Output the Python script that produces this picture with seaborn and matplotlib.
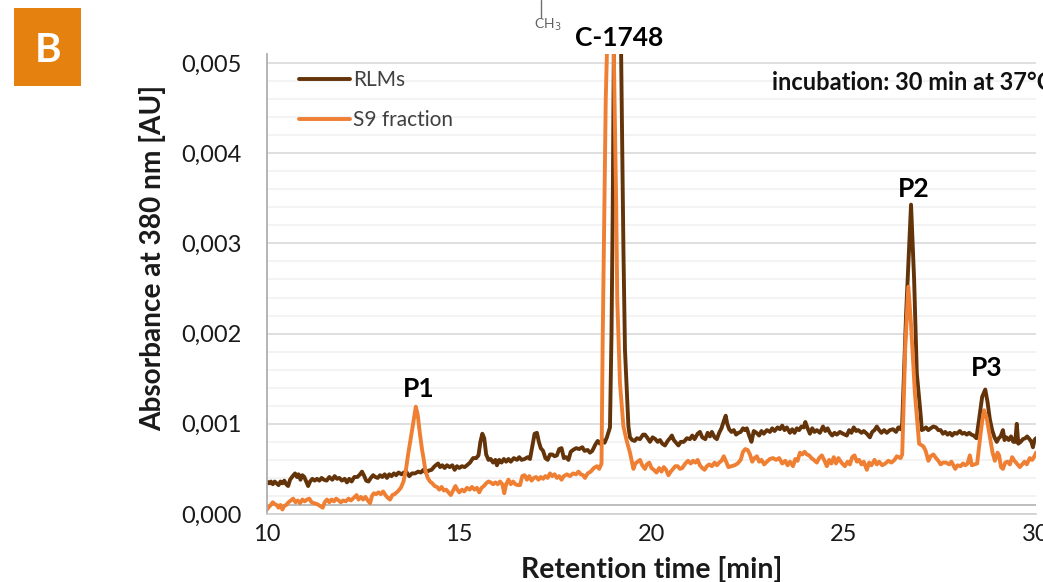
import pandas as pd
import matplotlib.pyplot as plt
import seaborn as sns
from matplotlib.patches import Rectangle
from matplotlib.ticker import FuncFormatter, MultipleLocator

rlm_points = [
    (10.0, .36), (10.05, .34), (10.1, .36), (10.15, .33), (10.2, .36), (10.25, .34), (10.3, .32), (10.35, .36),
    (10.4, .34), (10.45, .37), (10.5, .33), (10.55, .31), (10.6, .38), (10.65, .41), (10.73, .45), (10.78, .41),
    (10.82, .44), (10.87, .38), (10.92, .43), (10.97, .41), (11.02, .36), (11.07, .31), (11.12, .36), (11.18, .39),
    (11.24, .37), (11.3, .39), (11.36, .37), (11.42, .40), (11.48, .38), (11.55, .37), (11.62, .41), (11.7, .38),
    (11.76, .42), (11.82, .39), (11.88, .40), (11.95, .37), (12.02, .39), (12.08, .35), (12.14, .39), (12.2, .36),
    (12.27, .41), (12.35, .41), (12.42, .44), (12.47, .47), (12.53, .42), (12.58, .37), (12.64, .36), (12.7, .40),
    (12.76, .43), (12.82, .41), (12.88, .40), (12.94, .43), (13.0, .41), (13.06, .44), (13.12, .40), (13.18, .44),
    (13.24, .42), (13.3, .45), (13.36, .43), (13.42, .46), (13.5, .44), (13.56, .46), (13.62, .47), (13.7, .42),
    (13.77, .45), (13.85, .45), (13.93, .47), (14.0, .46), (14.07, .49), (14.13, .46), (14.2, .48), (14.28, .49),
    (14.36, .53), (14.45, .56), (14.5, .52), (14.56, .54), (14.62, .51), (14.68, .54), (14.75, .52), (14.82, .54),
    (14.88, .49), (14.94, .53), (15.0, .51), (15.07, .53), (15.14, .52), (15.2, .54), (15.28, .57), (15.36, .62),
    (15.44, .62), (15.5, .65), (15.55, .80), (15.6, .89), (15.65, .84), (15.7, .66), (15.76, .60), (15.82, .61),
    (15.88, .57), (15.94, .60), (15.98, .54), (16.04, .60), (16.1, .57), (16.16, .61), (16.22, .58), (16.28, .61),
    (16.34, .58), (16.42, .62), (16.5, .60), (16.56, .63), (16.62, .60), (16.7, .61), (16.78, .63), (16.84, .61),
    (16.9, .75), (16.96, .89), (17.02, .90), (17.07, .80), (17.12, .73), (17.18, .70), (17.24, .62), (17.3, .60),
    (17.36, .66), (17.42, .66), (17.48, .64), (17.54, .65), (17.6, .72), (17.66, .73), (17.72, .62), (17.78, .63),
    (17.84, .60), (17.9, .69), (17.96, .71), (18.04, .73), (18.12, .72), (18.2, .74), (18.26, .70), (18.34, .71),
    (18.4, .68), (18.46, .70), (18.54, .77), (18.6, .81), (18.66, .78), (18.72, .82), (18.78, .79), (18.84, .85),
    (18.92, .96), (18.96, 2.0), (18.99, 3.3), (19.02, 5.1), (19.12, 9.0), (19.21, 5.1), (19.24, 4.0), (19.27, 2.93),
    (19.31, 1.82), (19.4, .97), (19.44, .85), (19.5, .82), (19.56, .81), (19.62, .84), (19.7, .83), (19.78, .88),
    (19.83, .88), (19.9, .84), (19.96, .80), (20.03, .85), (20.1, .83), (20.16, .80), (20.22, .82), (20.28, .78),
    (20.35, .76), (20.42, .81), (20.48, .84), (20.53, .87), (20.58, .82), (20.64, .79), (20.7, .76), (20.76, .80),
    (20.84, .80), (20.92, .84), (21.0, .83), (21.06, .87), (21.12, .83), (21.2, .89), (21.26, .91), (21.32, .85),
    (21.4, .83), (21.46, .90), (21.52, .86), (21.57, .91), (21.64, .85), (21.7, .83), (21.76, .90), (21.82, .95),
    (21.88, 1.03), (21.93, 1.09), (21.97, 1.0), (22.02, .94), (22.08, .91), (22.14, .93), (22.2, .88), (22.26, .90),
    (22.32, .91), (22.38, .95), (22.43, .93), (22.48, .95), (22.54, .87), (22.6, .80), (22.66, .92), (22.73, .90),
    (22.8, .87), (22.86, .92), (22.92, .89), (23.0, .93), (23.08, .91), (23.14, .95), (23.2, .92), (23.28, .96),
    (23.34, .94), (23.4, .98), (23.46, .93), (23.52, .96), (23.6, .90), (23.66, .94), (23.72, .90), (23.78, .95),
    (23.84, .93), (23.9, .97), (23.96, .96), (24.0, 1.02), (24.06, .95), (24.12, .89), (24.18, .95), (24.24, .91),
    (24.3, .93), (24.38, .90), (24.46, .97), (24.52, .92), (24.58, .95), (24.64, .90), (24.7, .87), (24.76, .90),
    (24.82, .88), (24.9, .91), (24.98, .89), (25.08, .87), (25.14, .93), (25.2, .90), (25.26, .96), (25.32, .92),
    (25.38, .93), (25.46, .90), (25.52, .92), (25.6, .89), (25.68, .85), (25.74, .91), (25.8, .93), (25.86, .97),
    (25.92, .93), (25.98, .90), (26.05, .93), (26.12, .90), (26.2, .93), (26.28, .94), (26.36, .91), (26.42, .96),
    (26.48, .94), (26.52, 1.0), (26.62, 2.2), (26.75, 3.43), (26.83, 2.6), (26.9, 1.56), (27.0, 1.1), (27.03, .93),
    (27.08, .94), (27.14, .96), (27.2, .93), (27.26, .95), (27.33, .97), (27.4, .96), (27.46, .93), (27.52, .93),
    (27.58, .89), (27.64, .91), (27.7, .88), (27.76, .90), (27.82, .87), (27.88, .90), (27.94, .89), (28.02, .92),
    (28.08, .89), (28.14, .90), (28.2, .88), (28.26, .90), (28.32, .88), (28.38, .87), (28.45, .84), (28.52, 1.05),
    (28.6, 1.30), (28.68, 1.38), (28.74, 1.24), (28.8, 1.05), (28.86, .93), (28.92, .85), (28.98, .80), (29.03, .84),
    (29.08, .86), (29.14, .93), (29.18, .82), (29.23, .85), (29.29, .82), (29.35, .86), (29.41, .80), (29.46, .80),
    (29.5, 1.0), (29.54, .78), (29.6, .80), (29.66, .83), (29.72, .84), (29.77, .86), (29.83, .83), (29.88, .80),
    (29.92, .74), (29.96, .82), (30.0, .84),
]
s9_points = [
    (10.0, .05), (10.05, .08), (10.1, .10), (10.15, .13), (10.2, .11), (10.25, .10), (10.3, .07), (10.35, .10),
    (10.4, .05), (10.45, .09), (10.5, .10), (10.56, .13), (10.62, .15), (10.68, .17), (10.74, .13), (10.8, .15),
    (10.86, .12), (10.92, .16), (10.98, .14), (11.04, .16), (11.1, .17), (11.16, .13), (11.22, .12), (11.3, .11),
    (11.38, .09), (11.45, .07), (11.5, .13), (11.56, .16), (11.62, .13), (11.68, .16), (11.74, .14), (11.8, .17),
    (11.86, .15), (11.92, .13), (11.98, .15), (12.05, .14), (12.12, .17), (12.18, .15), (12.26, .18), (12.33, .21),
    (12.38, .16), (12.44, .19), (12.5, .16), (12.56, .19), (12.62, .15), (12.68, .12), (12.73, .20), (12.78, .23),
    (12.84, .22), (12.9, .24), (12.96, .22), (13.02, .25), (13.08, .21), (13.14, .18), (13.2, .16), (13.26, .21),
    (13.32, .22), (13.4, .25), (13.48, .29), (13.55, .36), (13.61, .48), (13.67, .66), (13.74, .84), (13.8, 1.0),
    (13.87, 1.19), (13.92, 1.1), (13.98, .88), (14.03, .72), (14.07, .62), (14.12, .48), (14.18, .40), (14.24, .36),
    (14.3, .34), (14.36, .31), (14.42, .30), (14.48, .27), (14.54, .30), (14.6, .26), (14.66, .27), (14.72, .24),
    (14.78, .21), (14.84, .26), (14.9, .31), (14.95, .27), (15.0, .24), (15.07, .27), (15.13, .25), (15.2, .29),
    (15.27, .27), (15.33, .30), (15.4, .27), (15.46, .29), (15.52, .24), (15.58, .29), (15.64, .31), (15.7, .34),
    (15.76, .36), (15.82, .35), (15.88, .33), (15.94, .35), (16.0, .33), (16.06, .36), (16.12, .33), (16.17, .23),
    (16.22, .33), (16.28, .38), (16.34, .33), (16.4, .36), (16.46, .33), (16.52, .32), (16.58, .32), (16.64, .42),
    (16.7, .43), (16.76, .38), (16.82, .42), (16.88, .37), (16.94, .40), (17.0, .41), (17.06, .38), (17.12, .41),
    (17.18, .39), (17.24, .42), (17.3, .40), (17.36, .45), (17.42, .42), (17.48, .44), (17.54, .40), (17.6, .42),
    (17.66, .38), (17.72, .42), (17.8, .44), (17.88, .42), (17.96, .45), (18.04, .44), (18.1, .47), (18.16, .44),
    (18.22, .43), (18.27, .40), (18.34, .45), (18.42, .47), (18.5, .51), (18.58, .53), (18.64, .50), (18.7, .56),
    (18.73, 1.9), (18.76, 2.93), (18.81, 4.6), (18.84, 5.1), (18.93, 9.0), (19.02, 5.1), (19.08, 3.48), (19.11, 2.37),
    (19.18, 1.45), (19.27, .97), (19.35, .82), (19.44, .68), (19.48, .60), (19.53, .50), (19.58, .56), (19.64, .58),
    (19.7, .60), (19.76, .54), (19.83, .50), (19.88, .55), (19.94, .57), (20.0, .51), (20.06, .49), (20.13, .46),
    (20.2, .51), (20.26, .47), (20.32, .52), (20.38, .49), (20.44, .43), (20.5, .47), (20.56, .50), (20.62, .53),
    (20.68, .53), (20.74, .50), (20.8, .51), (20.88, .56), (20.95, .59), (21.02, .56), (21.08, .59), (21.14, .57),
    (21.2, .60), (21.26, .54), (21.32, .51), (21.38, .49), (21.44, .53), (21.5, .55), (21.57, .53), (21.64, .57),
    (21.7, .54), (21.76, .57), (21.82, .59), (21.88, .64), (21.94, .58), (22.0, .52), (22.08, .53), (22.16, .54),
    (22.24, .56), (22.32, .60), (22.38, .69), (22.44, .72), (22.5, .71), (22.56, .66), (22.62, .58), (22.68, .62),
    (22.74, .64), (22.8, .58), (22.86, .60), (22.93, .55), (23.0, .58), (23.08, .61), (23.16, .62), (23.24, .60),
    (23.32, .62), (23.4, .56), (23.48, .59), (23.54, .54), (23.6, .58), (23.68, .53), (23.74, .61), (23.8, .59),
    (23.86, .68), (23.92, .66), (23.98, .69), (24.04, .66), (24.1, .65), (24.16, .62), (24.22, .60), (24.3, .57),
    (24.36, .62), (24.43, .65), (24.5, .59), (24.56, .53), (24.62, .60), (24.68, .56), (24.74, .63), (24.8, .56),
    (24.86, .62), (24.94, .57), (25.03, .53), (25.1, .58), (25.16, .55), (25.22, .63), (25.28, .65), (25.34, .58),
    (25.4, .60), (25.46, .55), (25.52, .58), (25.6, .49), (25.66, .57), (25.72, .54), (25.8, .60), (25.86, .55),
    (25.92, .58), (26.0, .54), (26.08, .56), (26.16, .59), (26.24, .57), (26.32, .60), (26.38, .64), (26.48, .62),
    (26.52, .66), (26.6, 1.85), (26.68, 2.52), (26.75, 2.1), (26.85, 1.34), (26.96, .78), (27.07, .75), (27.13, .70),
    (27.2, .59), (27.26, .64), (27.33, .66), (27.4, .62), (27.46, .59), (27.52, .55), (27.58, .57), (27.66, .57),
    (27.74, .55), (27.8, .58), (27.85, .54), (27.9, .50), (27.96, .54), (28.04, .53), (28.1, .56), (28.16, .54),
    (28.22, .56), (28.28, .65), (28.33, .54), (28.4, .55), (28.47, .56), (28.55, .86), (28.6, 1.03), (28.65, 1.15),
    (28.72, 1.06), (28.8, .86), (28.87, .68), (28.93, .59), (29.0, .68), (29.04, .65), (29.09, .52), (29.14, .50),
    (29.2, .57), (29.26, .58), (29.32, .55), (29.38, .63), (29.44, .59), (29.5, .56), (29.58, .52), (29.64, .55),
    (29.7, .58), (29.76, .55), (29.84, .62), (29.9, .60), (29.96, .64), (30.0, .68),
]

series_names = ['RLMs', 'S9 fraction']
series_colors = ['#63330A', '#EF7F33']

sns.set_theme(style="white")
plt.rcParams['font.family'] = ['Lato', 'DejaVu Sans']

df = pd.concat([
    pd.DataFrame(rlm_points, columns=['time', 'abs']).assign(sample=series_names[0]),
    pd.DataFrame(s9_points, columns=['time', 'abs']).assign(sample=series_names[1]),
])
df['abs'] = df['abs'] / 1000

W, H = 1043, 582
fig = plt.figure(figsize=(W / 100, H / 100), dpi=100)
ax = fig.add_axes([267 / W, 1 - 514 / H, (1036 - 267) / W, (514 - 54) / H])

sns.lineplot(data=df, x='time', y='abs', hue='sample', palette=series_colors, sort=False,
             estimator=None, linewidth=2.8, legend=False, ax=ax)

ax.set_xlim(10, 30)
ax.set_ylim(0, 0.0051)
ax.xaxis.set_major_locator(MultipleLocator(5))
ax.yaxis.set_major_locator(MultipleLocator(0.001))
ax.yaxis.set_minor_locator(MultipleLocator(0.0002))
ax.yaxis.set_major_formatter(FuncFormatter(lambda v, p: f'{v:.3f}'.replace('.', ',')))
ax.grid(axis='y', which='major', color='#D6D6D6', linewidth=1.1, zorder=0)
ax.grid(axis='y', which='minor', color='#F1F1F1', linewidth=1.2, zorder=0)
ax.axhline(0.0001, color='#ABABAB', linewidth=1.1, zorder=1)
ax.set_axisbelow(True)
ax.tick_params(axis='x', which='major', labelsize=17, labelcolor='#1A1A1A', length=0, pad=7)
ax.tick_params(axis='y', which='major', labelsize=17, labelcolor='#1A1A1A', length=0, pad=18)
ax.tick_params(axis='y', which='minor', length=0)
for lado in ['top', 'right']:
    ax.spines[lado].set_visible(False)
ax.spines['left'].set_color('#ABABAB')
ax.spines['bottom'].set_color('#D0D0D0')

ax.set_xlabel('Retention time [min]', fontsize=20.5, fontweight='bold', color='#1A1A1A', va='center')
ax.xaxis.set_label_coords(0.5, -0.12)
ax.set_ylabel('Absorbance at 380 nm [AU]', fontsize=20.2, fontweight='bold', color='#1A1A1A', va='center')
ax.yaxis.set_label_coords(-0.149, 0.557)

# Rotulos dos picos
ax.text(13.95, 0.00139, 'P1', fontsize=19, fontweight='bold', ha='center', va='center', color='black')
ax.text(26.82, 0.00360, 'P2', fontsize=19, fontweight='bold', ha='center', va='center', color='black')
ax.text(28.72, 0.00162, 'P3', fontsize=19, fontweight='bold', ha='center', va='center', color='black')


# Textos e legenda em coordenadas de pixel da figura
def px(x, y):
    return x / W, 1 - y / H


fig.text(*px(619, 38), 'C-1748', fontsize=19, fontweight='bold', ha='center', va='center', color='black')
fig.text(*px(772, 83), 'incubation: 30 min at 37°C', fontsize=17, fontweight='bold', ha='left', va='center',
         color='#111111')
for nome, cor, y in zip(series_names, series_colors, [79, 119]):
    fig.add_artist(plt.Line2D([299 / W, 350 / W], [1 - y / H, 1 - y / H], color=cor, linewidth=2.8))
    fig.text(*px(353, y + 1), nome, fontsize=15, ha='left', va='center', color='#404040')

# Quadrado do painel
fig.add_artist(Rectangle(px(14, 86), 67 / W, 78 / H, transform=fig.transFigure, color='#E5820F', linewidth=0))
fig.text(*px(48, 51), 'B', fontsize=29, fontweight='bold', ha='center', va='center', color='white')

# Pedaco da estrutura quimica
fig.add_artist(plt.Line2D([541 / W, 541 / W], [1 - 0 / H, 1 - 17 / H], color='#707070', linewidth=1))
fig.text(*px(548, 25), 'CH$_3$', fontsize=10, ha='center', va='center', color='#606060')

plt.savefig('out.png', dpi=100)
plt.close()
